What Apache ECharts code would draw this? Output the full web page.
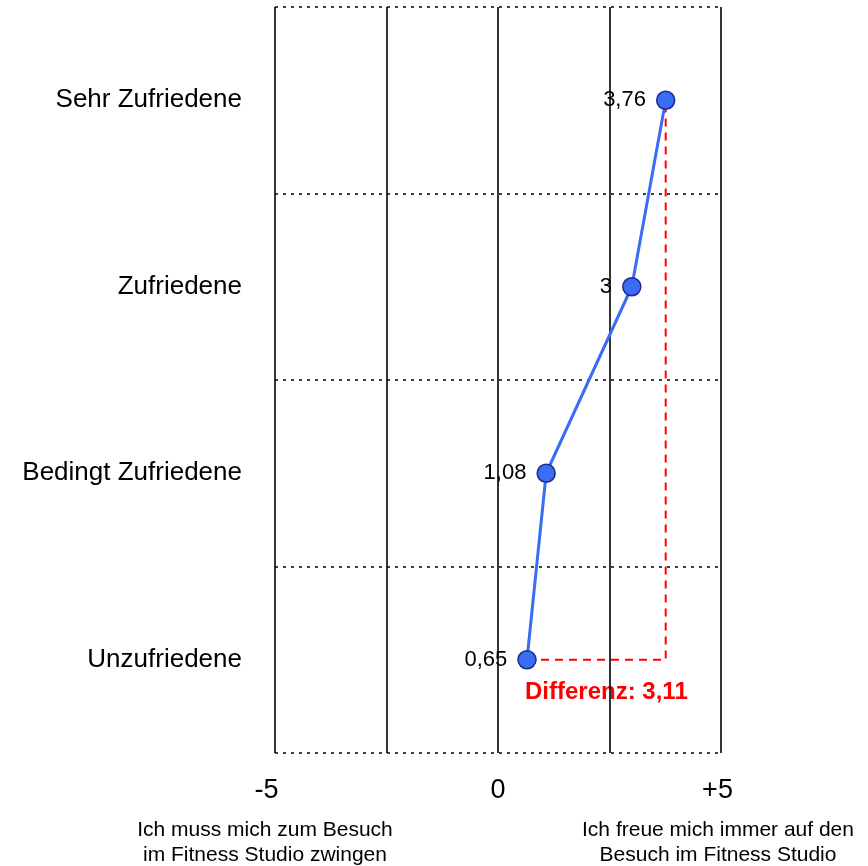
<!DOCTYPE html>
<html><head><meta charset="utf-8">
<script src="https://cdn.jsdelivr.net/npm/echarts@6/dist/echarts.min.js"></script>
<style>html,body{margin:0;padding:0;background:#fff}#c{width:868px;height:866px}</style>
</head><body><div id="c"></div>
<script>
const categories = ['Unzufriedene', 'Bedingt Zufriedene', 'Zufriedene', 'Sehr Zufriedene'];
const values = [0.65, 1.08, 3, 3.76];
const xTickLabels = {'-5': '{l|-5}', '0': '{c|0}', '5': '{r|+5}'};
const leftCaption = 'Ich muss mich zum Besuch\nim Fitness Studio zwingen';
const rightCaption = 'Ich freue mich immer auf den\nBesuch im Fitness Studio';
const diffLabel = 'Differenz: 3,11';

const FONT = '"Liberation Sans", Arial, sans-serif';
const chart = echarts.init(document.getElementById('c'), null, {renderer: 'canvas'});
const lo = values[0], hi = values[values.length - 1];
const tickFont = {fontSize: 27, color: '#000', fontFamily: FONT};
chart.setOption({
  animation: false,
  backgroundColor: '#fff',
  grid: {left: 275, right: 147, top: 7, bottom: 113, containLabel: false},
  xAxis: {
    type: 'value', min: -5, max: 5, interval: 2.5,
    axisLine: {show: false}, axisTick: {show: false},
    splitLine: {show: true, showMinLine: true, showMaxLine: true, lineStyle: {color: '#000', width: 1.6, type: 'solid'}},
    axisLabel: {
      margin: 24, fontSize: 27, color: '#000', fontFamily: FONT,
      formatter: v => xTickLabels[String(v)] || '',
      rich: {
        l: Object.assign({padding: [0, 17, 0, 0]}, tickFont),
        c: Object.assign({}, tickFont),
        r: Object.assign({padding: [0, 7, 0, 0]}, tickFont)
      }
    }
  },
  yAxis: {
    type: 'category', data: categories, boundaryGap: true,
    axisLine: {show: false}, axisTick: {show: false},
    splitLine: {show: true, lineStyle: {color: '#000', width: 1.5, type: [3, 5]}},
    axisLabel: {margin: 33, fontSize: 26, color: '#000', fontFamily: FONT}
  },
  series: [
    {
      type: 'line', z: 2,
      data: [[lo, categories[0]], [hi, categories[0]], [hi, categories[3]]],
      symbol: 'none', silent: true,
      lineStyle: {color: '#ff0000', width: 2, type: [8, 6]}
    },
    {
      type: 'line', z: 3,
      data: values.map((v, i) => [v, categories[i]]),
      symbol: 'circle', symbolSize: 18,
      lineStyle: {color: '#3a6cf4', width: 3},
      itemStyle: {color: '#3a6cf4', borderColor: '#1a2a8a', borderWidth: 1.5},
      label: {
        show: true, position: 'left', distance: 10, fontSize: 22, color: '#000', fontFamily: FONT,
        formatter: p => String(p.value[0]).replace('.', ',')
      }
    }
  ],
  graphic: [
    {type: 'text', x: 525, y: 692, style: {text: diffLabel, fill: '#ff0000', font: 'bold 24px ' + FONT, verticalAlign: 'middle'}},
    {type: 'text', x: 265, y: 843, style: {text: leftCaption, fill: '#000', font: '21px ' + FONT, align: 'center', verticalAlign: 'middle', lineHeight: 25}},
    {type: 'text', x: 718, y: 843, style: {text: rightCaption, fill: '#000', font: '21px ' + FONT, align: 'center', verticalAlign: 'middle', lineHeight: 25}}
  ]
});
</script></body></html>
